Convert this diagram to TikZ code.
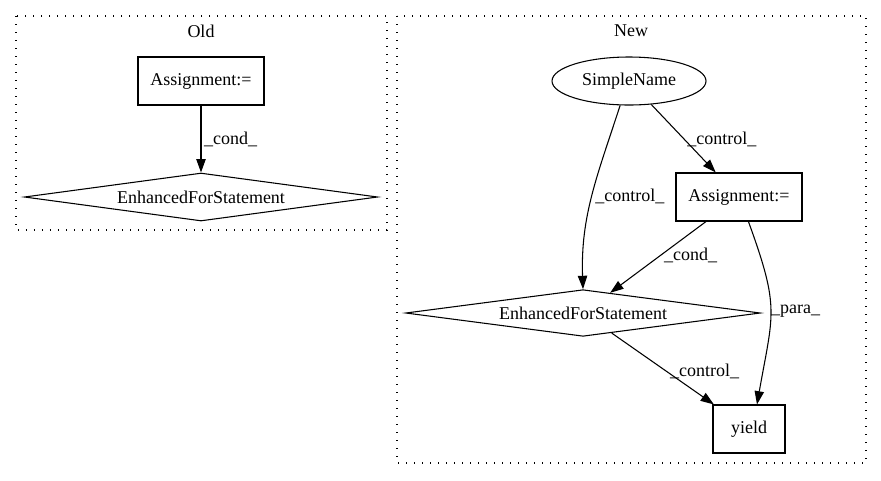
\documentclass[tikz,border=0pt]{standalone}
\usepackage{fontspec}
\setmainfont{Liberation Serif}
\usetikzlibrary{shapes.geometric,arrows.meta}
\tikzset{
    stmtbox/.style={draw,line width=0.8pt,minimum width=94.5pt,minimum height=36pt,inner sep=0pt},
    namebox/.style={draw,ellipse,line width=0.8pt,minimum width=115.5pt,minimum height=36pt,inner sep=0pt},
    forbox/.style={draw,diamond,aspect=7.6,line width=0.8pt,minimum width=266pt,minimum height=35pt,inner sep=0pt},
    cluster/.style={line width=0.8pt,dash pattern=on 0.8pt off 5.2pt},
    flow/.style={line width=0.8pt,-{Triangle[length=10pt,width=7pt]}},
    lbl/.style={anchor=west,inner sep=2pt}
}
\begin{document}
\begin{tikzpicture}[x=0.75pt,y=-0.75pt,font=\fontsize{13.5}{16}\selectfont]
    \useasboundingbox (0,0) rectangle (881,480);

    % Old graph
    \draw[cluster] (16,16) rectangle (387,230);
    \node (oldtitle) at (201,31) {Old};
    \node[stmtbox] (oldassign) at (201,81) {Assignment:=};
    \node[forbox,minimum width=265pt,minimum height=36pt] (oldfor) at (201,197) {EnhancedForStatement};
    \draw[flow] (oldassign) -- node[lbl,pos=0.5] (oldcond) {\_cond\_} (oldfor);

    % New graph
    \draw[cluster] (397,16) rectangle (866,463);
    \node (newtitle) at (631,31) {New};
    \node[namebox] (simple) at (629,81) {SimpleName};
    \node[stmtbox] (newassign) at (739,197) {Assignment:=};
    \node[forbox] (newfor) at (583,313) {EnhancedForStatement};
    \node[stmtbox,minimum width=54pt] (yield) at (749,429) {yield};

    % Edges
    \draw[flow] (simple) -- node[lbl,pos=0.51] (ctrla) {\_control\_} (newassign);
    \draw[flow] (simple.250) to[out=-108,in=92] node[lbl,pos=0.5] (ctrlb) {\_control\_} (newfor.north);
    \draw[flow] (newassign) -- node[lbl,pos=0.47] (newcond) {\_cond\_} (newfor);
    \draw[flow] (newassign.-69) to[out=-70,in=80,looseness=1.3] node[lbl,pos=0.5,inner sep=0pt] (para) {\_para\_} (yield.72);
    \draw[flow] (newfor) -- node[lbl,pos=0.54] (ctrlc) {\_control\_} (yield);
\end{tikzpicture}
\end{document}
